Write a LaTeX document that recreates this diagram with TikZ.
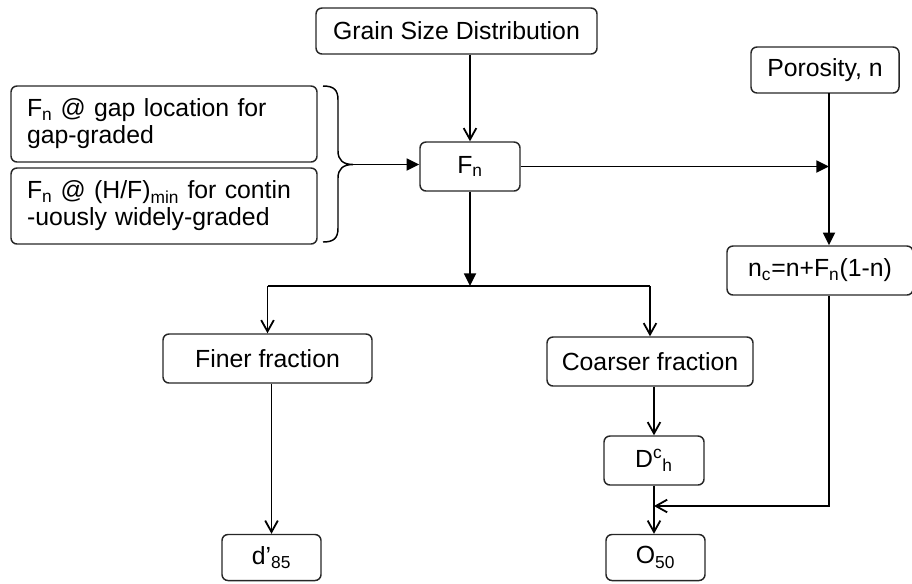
\documentclass[tikz,border=0pt]{standalone}
\usepackage{fontspec}
\setmainfont{Liberation Sans}
\usetikzlibrary{arrows.meta}
\begin{document}
\begin{tikzpicture}[x=0.75pt,y=-0.75pt,
  box/.style={draw=black!85,line width=1.1pt,rounded corners=4.5pt,inner sep=0pt,
    minimum height=36.75pt,align=center,
    font=\fontsize{18.6}{20.3}\selectfont},
  lbox/.style={box,minimum height=57pt,text width=205.5pt,inner xsep=12pt,align=left},
  conn/.style={line width=1.35pt,black},
  op/.style={conn,-{Straight Barb[length=8.5pt,width=9.5pt,line width=1.35pt]}},
  fl/.style={conn,-{Triangle[length=9.5pt,width=9pt]}}]
\useasboundingbox (0,0) rectangle (912,583);
% boxes
\node[box,minimum width=210.75pt,minimum height=34.5pt] (grain) at (456.5,31) {Grain Size Distribution};
\node[box,minimum width=75pt] (fn) at (470,166.5) {F\textsubscript{n}};
\node[box,minimum width=111pt,minimum height=34.5pt] (por) at (825,70) {Porosity, n};
\node[lbox] (lb1) at (164,124) {F\textsubscript{n} @ gap location for\\gap-graded};
\node[lbox] (lb2) at (164,206) {\makebox[\linewidth][s]{F\textsubscript{n} @ (H/F)\textsubscript{min} for contin}\\-uously widely-graded};
\node[box,minimum width=139.5pt] (nc) at (820,270.5) {n\textsubscript{c}=n+F\textsubscript{n}(1-n)};
\node[box,minimum width=156.75pt] (finer) at (267.5,358.5) {Finer fraction};
\node[box,minimum width=154.5pt] (coarser) at (650,361.5) {Coarser fraction};
\node[box,minimum width=75pt] (dch) at (654,460.5) {D\textsuperscript{c}\textsubscript{h}};
\node[box,minimum width=74.25pt,minimum height=34.5pt] (d85) at (271.5,557.5) {d’\textsubscript{85}};
\node[box,minimum width=74.25pt,minimum height=34.5pt] (o50) at (655.5,557.5) {O\textsubscript{50}};
% helper coordinates
\coordinate (bracetip) at (353,164.5);
\coordinate (ptop) at (829,93);
\coordinate (hy) at (0,286);
\coordinate (ry) at (0,506);
% brace
\draw[conn,line width=1.1pt] (323,86) .. controls (334,86) and (338,90) .. (338,100) -- (338,151)
  .. controls (338,160) and (343,164.5) .. (bracetip)
  .. controls (343,164.5) and (338,169) .. (338,178) -- (338,228)
  .. controls (338,238) and (334,242) .. (323,242);
% connectors
\draw[op] (grain.south -| fn.north) -- (fn.north);
\draw[fl] (bracetip) -- (fn.west |- bracetip);
\draw[fl] (fn.east) -- (fn.east -| ptop);
\draw[fl] (ptop) -- (ptop |- nc.north);
\draw[fl] (fn.south) -- (fn.south |- hy);
\draw[conn] (finer.north |- hy) -- (coarser.north |- hy);
\draw[op] (finer.north |- hy) -- (finer.north);
\draw[op] (coarser.north |- hy) -- (coarser.north);
\draw[op] (coarser.south -| dch.north) -- (dch.north);
\draw[op] (dch.south) -- (dch.south |- o50.north);
\draw[op] (finer.south -| d85.north) -- (d85.north);
\draw[op] (ptop |- nc.south) -- (ptop |- ry) -- (dch.south |- ry);
\end{tikzpicture}
\end{document}
